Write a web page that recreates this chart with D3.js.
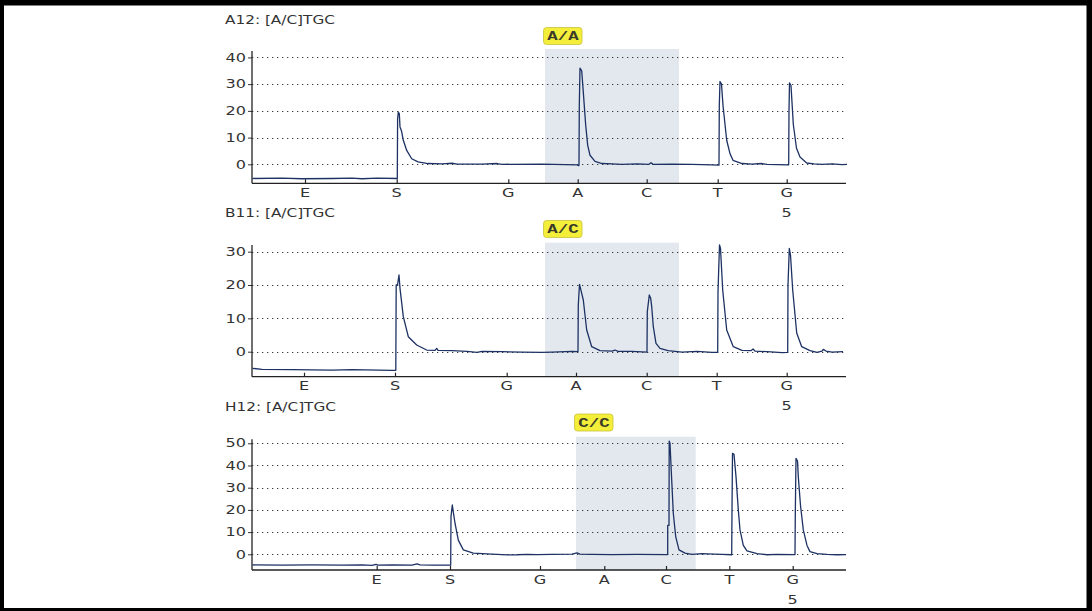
<!DOCTYPE html>
<html><head><meta charset="utf-8">
<script src="https://cdn.jsdelivr.net/npm/d3@7"></script>
<style>html,body{margin:0;padding:0;background:#fff;}svg{display:block;}</style>
</head><body>
<svg id="c" width="1092" height="611"></svg>
<script>
// ---------------- data ----------------
const titles = ["A12: [A/C]TGC", "B11: [A/C]TGC", "H12: [A/C]TGC"];
const genotypes = ["A/A", "A/C", "C/C"];
const dispensation = ["E", "S", "G", "A", "C", "T", "G"];
const positionMark = "5";           // shown under the last dispensation
const p1TickTimes = [53, 144.7, 256.3, 325.7, 394.7, 465.7, 534.7];
const p2TickTimes = [52, 143, 254.7, 324, 394.7, 464.7, 534.7];
const p3TickTimes = [124.7, 198, 288, 352.3, 414, 477.3, 540.7];
const p1YTicks = [0, 10, 20, 30, 40];
const p2YTicks = [0, 10, 20, 30];
const p3YTicks = [0, 10, 20, 30, 40, 50];
const p1YDomain = [-7.1, 42.4];
const p2YDomain = [-7.5, 32];
const p3YDomain = [-7.07, 51.8];
const timeDomain = [0, 595];
const p1Window = [293, 427];
const p2Window = [293, 427];
const p3Window = [324, 443.7];

const p1Trace = [
 [0.5,-5.3],[30,-5.2],[50,-5.4],[80,-5.3],[100,-5.2],[110,-5.4],[125,-5.2],[145,-5.3],
 [145.3,-5.3],[145.6,17],[146.3,19.5],[147.3,19],[148,14],[149.5,12.5],[151.3,9],[154.7,5.2],[159.7,2.1],[166,0.9],[176,0.3],[190,0.2],[200,0.4],[205,0.1],[230,0.1],[245,0.3],[250,0],[290,0.1],[325,-0.2],[326.8,-0.5],
 [327,-0.3],[327.3,22],[328,36],[329.7,35],[331.3,27],[333.7,14.6],[335.7,7.1],[338,3.4],[343,1.1],[350,0.3],[360,0.2],[370,0],[385,0.2],
 [397,0],[399,0.6],[401,0],[420,0.1],[440,0],[460,-0.2],[466.7,-0.3],
 [467,-0.3],[467.3,22],[468,31],[469.5,30],[471,22],[474.7,9],[478,4],[481,1.5],[490,0.3],[500,0.1],[510,0.3],[515,0],[536,-0.2],
 [536.7,-0.2],[537,20],[537.5,30.5],[539,29.5],[541.3,15],[544.5,6],[548,2.7],[554.7,0.5],[562,0.2],[570,0],[580,0.2],[590,-0.1],[595,0]
];
const p2Trace = [
 [0.5,-5.0],[10,-5.3],[40,-5.4],[80,-5.5],[100,-5.4],[140,-5.6],[143.8,-5.6],
 [144.2,20],[145.5,20],[147,23],[148,19],[151.3,10.5],[156.3,4.5],[164.7,2],[174.7,0.5],[183,0.4],[184.7,1],[186,0.4],[200,0.3],[215,0.1],[225,-0.2],[230,0.1],[250,0],[270,-0.1],[290,-0.2],[300,-0.1],[320,0.1],[326,0],
 [326.3,14],[327.5,20.2],[328.5,19],[331.3,15.5],[334.7,6.5],[339.7,1.5],[348,0.3],[360,0.2],[363,0.5],[366,0.1],[380,0.1],[395,-0.1],
 [395.3,12],[397.3,17],[398.7,16],[399.7,13.5],[401.3,7.5],[404,2.5],[408,1],[416,0.3],[430,-0.1],[445,0.1],[460,-0.2],[465.7,-0.2],
 [466,18],[467.5,32],[468.5,31],[470.7,18.5],[474.7,6.5],[481.3,1.5],[490,0.4],[499,0.3],[501,0.8],[503,0.2],[515,0],[530,-0.3],[535.7,-0.2],
 [536,20],[537.3,31],[538.5,29],[540.7,18.5],[544.7,5.6],[549.7,1.5],[558,0.3],[565,-0.2],[570,0.2],[571.3,0.7],[574,0.2],[580,-0.1],[591,0]
];
const p3Trace = [
 [0.5,-4.8],[30,-4.9],[60,-4.8],[90,-4.9],[110,-4.8],[120,-5.0],[124,-4.5],[126,-4.9],[140,-4.8],[160,-4.9],[165,-4.3],[168,-4.8],[180,-4.9],[198.7,-4.9],
 [199,17],[200.3,22.2],[201,20],[203,14],[206.3,6.4],[211.3,2],[221.3,0.5],[235,0.2],[245,0],[255,-0.3],[265,-0.2],[275,0],[285,-0.1],[300,0],[320,0.1],[325,0.6],[328,0.1],[340,0],[360,-0.1],[385,0],[415.7,-0.1],
 [415.7,13],[417,13],[417.2,51],[418,50],[419.7,33.5],[421.3,18.5],[423.7,8],[427,2],[433,0.5],[440,0],[450,0.3],[455,0.2],[470,0],[479.7,-0.2],
 [480,20],[480.5,45.5],[482,45],[484,35],[486.3,20],[488,11],[491.3,4],[495,1.5],[505,0.3],[515,-0.2],[525,0],[543,-0.1],
 [543.3,18],[544,43.2],[545.5,42],[546.3,35],[548.5,22],[551.3,11],[555,4],[558,1.2],[565,0.3],[575,0],[585,-0.2],[594,-0.1]
];

// ---------------- layout ----------------
const X0 = 252, X1 = 847;
const panels = [
  {title: titles[0], geno: genotypes[0], ticks: p1TickTimes, yTicks: p1YTicks, yDomain: p1YDomain, win: p1Window, trace: p1Trace,
   top: 51, bottom: 183.3, shadeTop: 49, titleY: 23.5, boxY: 27.5},
  {title: titles[1], geno: genotypes[1], ticks: p2TickTimes, yTicks: p2YTicks, yDomain: p2YDomain, win: p2Window, trace: p2Trace,
   top: 245, bottom: 376.7, shadeTop: 242.7, titleY: 216.5, boxY: 220.5},
  {title: titles[2], geno: genotypes[2], ticks: p3TickTimes, yTicks: p3YTicks, yDomain: p3YDomain, win: p3Window, trace: p3Trace,
   top: 439.3, bottom: 570, shadeTop: 436.7, titleY: 411, boxY: 414}
];
const FONT = "DejaVu Sans, Verdana, sans-serif";
const SX = 1.4;   // horizontal stretch of the original picture

const svg = d3.select("#c");
svg.append("rect").attr("x",0).attr("y",0).attr("width",1092).attr("height",611).attr("fill","#000");
svg.append("rect").attr("x",4).attr("y",5.5).attr("width",1082.5).attr("height",602.5).attr("fill","#fff");

function stretchedText(g, x, y, txt, anchor, size, opts={}) {
  return g.append("text")
    .attr("transform", `translate(${x},${y}) scale(${opts.sx||SX},1)`)
    .attr("text-anchor", anchor)
    .attr("font-family", opts.family || FONT)
    .attr("font-size", size)
    .attr("font-weight", opts.weight || "normal")
    .attr("fill", opts.fill || "#333")
    .text(txt);
}

panels.forEach(p => {
  const g = svg.append("g");
  const x = d3.scaleLinear().domain(timeDomain).range([X0, X1]);
  const y = d3.scaleLinear().domain(p.yDomain).range([p.bottom, p.top]);

  // shaded genotype window
  g.append("rect")
    .attr("x", x(p.win[0])).attr("y", p.shadeTop)
    .attr("width", x(p.win[1]) - x(p.win[0])).attr("height", p.bottom - p.shadeTop)
    .attr("fill", "#e3e8ef");

  // gridlines (dotted)
  g.selectAll("line.grid").data(p.yTicks).join("line")
    .attr("x1", X0).attr("x2", X1 - 1)
    .attr("y1", d => Math.round(y(d)) + 0.5).attr("y2", d => Math.round(y(d)) + 0.5)
    .attr("stroke", "#3a3a3a").attr("stroke-width", 1).attr("stroke-dasharray", "1.3,3.7");

  // y axis
  const ya = d3.axisLeft(y).tickValues(p.yTicks).tickSize(4).tickFormat(d3.format("d"));
  const yg = g.append("g").attr("transform", `translate(${X0},0)`).call(ya);
  yg.select(".domain").remove();
  yg.selectAll(".tick line").attr("stroke", "#333");
  yg.selectAll(".tick text").remove();
  p.yTicks.forEach(v => stretchedText(g, X0 - 6, y(v) + 4.2, String(v), "end", 11.5));
  g.append("line").attr("x1", X0).attr("x2", X0).attr("y1", p.top).attr("y2", p.bottom)
    .attr("stroke", "#222").attr("stroke-width", 1.3);

  // x axis
  const xa = d3.axisBottom(x).tickValues(p.ticks).tickSize(-4).tickFormat("");
  const xg = g.append("g").attr("transform", `translate(0,${p.bottom})`).call(xa);
  xg.select(".domain").remove();
  xg.selectAll(".tick line").attr("stroke", "#222").attr("stroke-width", 1.2);
  g.append("line").attr("x1", X0).attr("x2", X1 - 1).attr("y1", p.bottom).attr("y2", p.bottom)
    .attr("stroke", "#222").attr("stroke-width", 1.3);
  p.ticks.forEach((t, i) => stretchedText(g, x(t), p.bottom + 13.5, dispensation[i], "middle", 11.5));
  stretchedText(g, x(p.ticks[p.ticks.length - 1]), p.bottom + 33.5, positionMark, "middle", 11.5);

  // trace
  const line = d3.line().x(d => x(d[0])).y(d => y(d[1]));
  g.append("path").datum(p.trace).attr("d", line)
    .attr("fill", "none").attr("stroke", "#1d3263").attr("stroke-width", 1.3)
    .attr("stroke-linejoin", "round");

  // title
  stretchedText(g, 225, p.titleY, p.title, "start", 11.5, {sx: 1.33});

  // genotype label box
  const bx = x(p.win[0]) - 1.5;
  g.append("rect").attr("x", bx).attr("y", p.boxY).attr("width", 38.5).attr("height", 17)
    .attr("rx", 3).attr("fill", "#f2ee3a").attr("stroke", "#c9c23a").attr("stroke-width", 0.8);
  stretchedText(g, bx + 19.5, p.boxY + 12.5, p.geno, "middle", 12,
    {sx: 1.45, family: "Liberation Mono, Courier New, monospace", weight: "bold", fill: "#3a3a2a"});
});
</script>
</body></html>
